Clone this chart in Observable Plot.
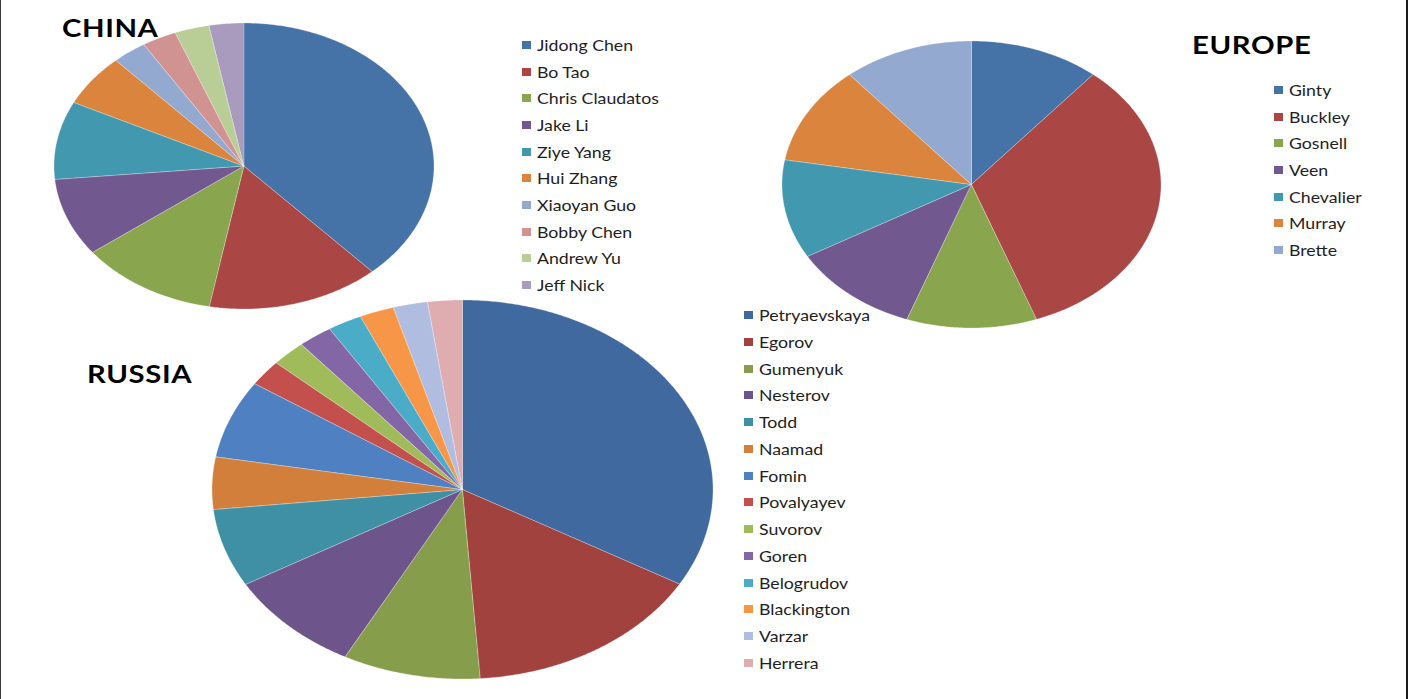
<!DOCTYPE html>
<html>
<head>
<meta charset="utf-8">
<script src="https://cdn.jsdelivr.net/npm/d3@7"></script>
<script src="https://cdn.jsdelivr.net/npm/@observablehq/plot@0.6"></script>
<style>
  html, body { margin: 0; padding: 0; background: #fff; }
  #stage { position: relative; width: 1408px; height: 699px; background: #fff; overflow: hidden; font-family: Lato, "Open Sans", sans-serif; }
  .pie { position: absolute; }
  .title { position: absolute; font-weight: 700; font-size: 24px; color: #000; line-height: 1; letter-spacing: 0.5px; transform: scaleX(1.22); transform-origin: 0 50%; white-space: nowrap; }
  .legend { position: absolute; }
  .legend .row { position: absolute; left: 0; height: 20px; display: flex; align-items: center; white-space: nowrap; font-size: 15px; color: #1e1e1e; }
  .legend .sw { width: 9px; height: 8px; margin-right: 6px; flex: none; }
  .legend .tx { display: inline-block; transform: scaleX(1.18); transform-origin: 0 50%; }
  .edgeL { position: absolute; left: 0; top: 0; width: 1px; height: 699px; background: #3a3a3a; }
  .edgeR { position: absolute; right: 0; top: 0; width: 2px; height: 699px; background: #1a1a1a; }
</style>
</head>
<body>
<div id="stage"></div>
<script>
// ---------- data ----------
const chinaNames = ["Jidong Chen", "Bo Tao", "Chris Claudatos", "Jake Li", "Ziye Yang", "Hui Zhang", "Xiaoyan Guo", "Bobby Chen", "Andrew Yu", "Jeff Nick"];
const chinaValues = [13, 5, 4, 3, 3, 2, 1, 1, 1, 1];

const europeNames = ["Ginty", "Buckley", "Gosnell", "Veen", "Chevalier", "Murray", "Brette"];
const europeValues = [1, 3, 1, 1, 1, 1, 1];

const russiaNames = ["Petryaevskaya", "Egorov", "Gumenyuk", "Nesterov", "Todd", "Naamad", "Fomin", "Povalyayev", "Suvorov", "Goren", "Belogrudov", "Blackington", "Varzar", "Herrera"];
const russiaValues = [15, 7, 4, 4, 3, 2, 3, 1, 1, 1, 1, 1, 1, 1];

// ---------- styles ----------
const paletteA = ["#4572A7", "#AA4643", "#89A54E", "#71588F", "#4198AF", "#DB843D", "#93A9CF", "#D19392", "#B9CD96", "#A99BBD"];
const paletteR = ["#40699F", "#A2423F", "#869E4B", "#6D548B", "#3F8FA5", "#D27F3B", "#4F80C2", "#C4504E", "#A0BB5A", "#8366A6", "#4BACC8", "#F79646", "#B0BDE0", "#DFADB0"];

const stage = document.getElementById("stage");

function pie(names, values, colors, box) {
  const rows = names.map((name, i) => ({name, value: values[i]}));
  const arcs = d3.pie().sort(null).value(d => d.value)(rows);
  const pts = [];
  for (const a of arcs) {
    const n = Math.max(2, Math.ceil((a.endAngle - a.startAngle) / (Math.PI / 360)));
    for (let i = 0; i <= n; i++) {
      const t = a.startAngle + (a.endAngle - a.startAngle) * i / n;
      pts.push({name: a.data.name, x1: 0, y1: 0, x2: Math.sin(t), y2: Math.cos(t)});
    }
  }
  const W = 2 * box.rx, H = 2 * box.ry;
  const svg = Plot.plot({
    width: W, height: H, margin: 0,
    x: {domain: [-1, 1], range: [0, W], axis: null},
    y: {domain: [-1, 1], range: [H, 0], axis: null},
    color: {domain: names, range: colors},
    style: {background: "transparent", overflow: "visible"},
    marks: [
      Plot.area(pts, {x1: "x1", y1: "y1", x2: "x2", y2: "y2", z: "name", fill: "name",
        stroke: "#ffffff", strokeWidth: 0.6, strokeOpacity: 0.45})
    ]
  });
  const div = document.createElement("div");
  div.className = "pie";
  div.style.left = (box.cx - box.rx) + "px";
  div.style.top = (box.cy - box.ry) + "px";
  div.appendChild(svg);
  stage.appendChild(div);
}

function legend(names, colors, left, top, step) {
  const div = document.createElement("div");
  div.className = "legend";
  div.style.left = left + "px";
  div.style.top = top + "px";
  names.forEach((n, i) => {
    const r = document.createElement("div");
    r.className = "row";
    r.style.top = (i * step - 10) + "px";
    const sw = document.createElement("span");
    sw.className = "sw";
    sw.style.background = colors[i];
    const tx = document.createElement("span");
    tx.className = "tx";
    tx.textContent = n;
    r.appendChild(sw); r.appendChild(tx);
    div.appendChild(r);
  });
  stage.appendChild(div);
}

function title(text, left, top) {
  const d = document.createElement("div");
  d.className = "title";
  d.textContent = text;
  d.style.left = left + "px";
  d.style.top = top + "px";
  stage.appendChild(d);
}

pie(chinaNames, chinaValues, paletteA, {cx: 244, cy: 165.5, rx: 190, ry: 143});
pie(europeNames, europeValues, paletteA, {cx: 971.5, cy: 184.5, rx: 189.5, ry: 143.5});
pie(russiaNames, russiaValues, paletteR, {cx: 462, cy: 489.5, rx: 250.5, ry: 189.5});

legend(chinaNames, paletteA, 522, 45, 26.67);
legend(europeNames, paletteA, 1274, 90, 26.67);
legend(russiaNames, paletteR, 744, 315, 26.77);

title("CHINA", 62, 16);
title("EUROPE", 1192, 33);
title("RUSSIA", 87, 362);

const eL = document.createElement("div"); eL.className = "edgeL"; stage.appendChild(eL);
const eR = document.createElement("div"); eR.className = "edgeR"; stage.appendChild(eR);
</script>
</body>
</html>
